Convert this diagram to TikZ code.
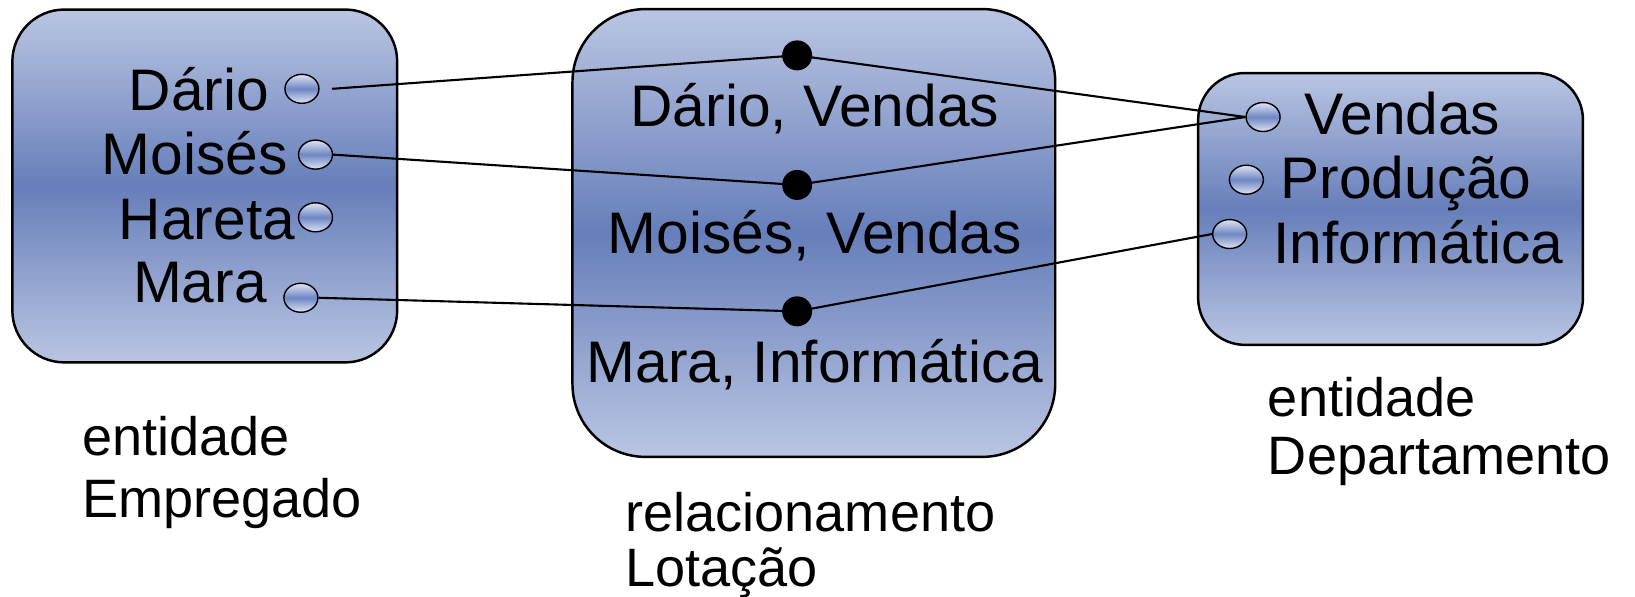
\documentclass[tikz,border=0pt]{standalone}
\usepackage{fontspec}
\setmainfont{Liberation Sans}
\usetikzlibrary{shapes.geometric}

\definecolor{caixaclara}{RGB}{186,197,226}
\definecolor{caixaescura}{RGB}{102,126,186}
\definecolor{bolaclara}{RGB}{222,228,244}
\definecolor{bolaescura}{RGB}{110,134,194}

\begin{document}
\begin{tikzpicture}[x=0.01045cm,y=-0.01045cm,
        every node/.style={font=\fontsize{16.7}{17.8}\selectfont, inner sep=0pt},
        conjunto/.style={draw, line width=0.7pt, top color=caixaclara, bottom color=caixaclara, middle color=caixaescura},
        elem/.style={ellipse, draw, thin, top color=bolaclara, bottom color=bolaclara, middle color=bolaescura,
                     minimum width=0.34cm, minimum height=0.29cm},
        par/.style={circle, fill=black, minimum size=0.30cm},
        liga/.style={semithick},
        legenda/.style={anchor=north west, align=left, font=\fontsize{15.4}{17.6}\selectfont}]
    \useasboundingbox (0,0) rectangle (1565,571);

    % conjuntos
    \node[conjunto, rounded corners=0.52cm, minimum width=3.85cm, minimum height=3.53cm] (Emp) at (196,178) {};
    \node[conjunto, rounded corners=0.73cm, minimum width=4.83cm, minimum height=4.48cm] (Lot) at (779,223) {};
    \node[conjunto, rounded corners=0.47cm, minimum width=3.85cm, minimum height=2.72cm] (Dep) at (1331,200) {};

    % empregados
    \node[elem] (eDario)  at (289,85)  {};
    \node[elem] (eMoises) at (302,148) {};
    \node[elem] (eHareta) at (302,208) {};
    \node[elem] (eMara)   at (288,285) {};
    \node[anchor=base east] (nDario)  at (258,106) {Dário};
    \node[anchor=base east] (nMoises) at (276,167) {Moisés};
    \node[anchor=base east] (nHareta) at (283,229) {Hareta};
    \node[anchor=base east] (nMara)   at (256,290) {Mara};

    % departamentos
    \node[elem] (dVendas) at (1209,112) {};
    \node[elem] (dProd)   at (1193,172) {};
    \node[elem] (dInfo)   at (1177,224) {};
    \node[anchor=base west] (nVendas) at (1248,129) {Vendas};
    \node[anchor=base west] (nProd)   at (1225,190) {Produção};
    \node[anchor=base west] (nInfo)   at (1218,252) {Informática};

    % pares
    \node[par] (p1) at (763,53)  {};
    \node[par] (p2) at (763,177) {};
    \node[par] (p3) at (763,298) {};
    \node[anchor=base] (n1) at (780,121) {Dário, Vendas};
    \node[anchor=base] (n2) at (780,243) {Moisés, Vendas};
    \node[anchor=base] (n3) at (780,366) {Mara, Informática};

    \coordinate (inicio) at (318,85);
    \draw[liga] (inicio) -- (p1.center) -- (dVendas.west);
    \draw[liga] (eMoises.east) -- (p2.center) -- (dVendas.west);
    \draw[liga] (eMara.east) -- (p3.center) -- (dInfo.west);

    % legendas
    \node[legenda] (lEmp) at (78,398) {entidade\\Empregado};
    \node[legenda] (lLot) at (598,471) {relacionamento\\[-2pt]Lotação};
    \node[legenda] (lDep) at (1213,360) {entidade\\[-1pt]Departamento};
\end{tikzpicture}
\end{document}
